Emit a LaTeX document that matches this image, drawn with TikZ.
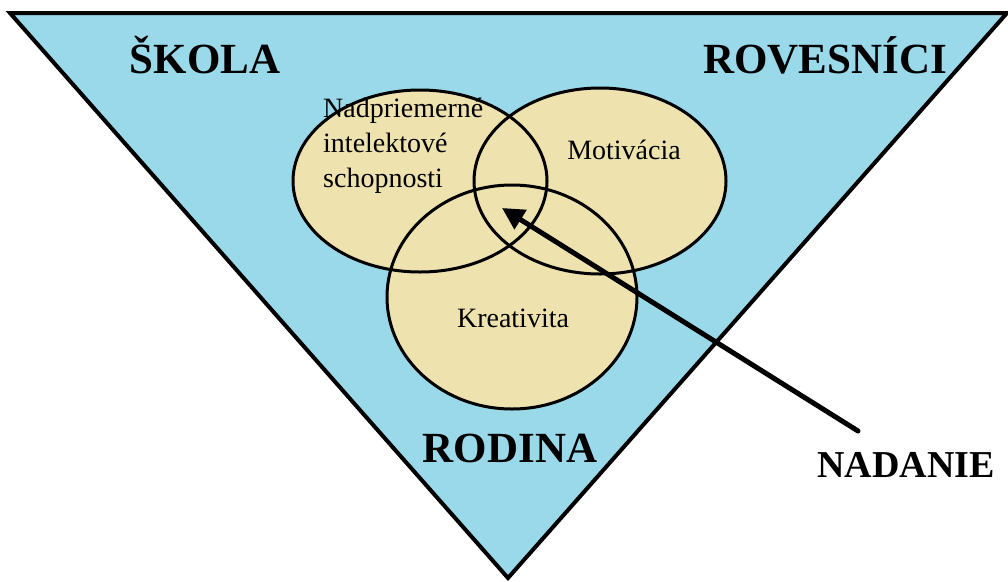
\documentclass[tikz,border=0pt]{standalone}
\usepackage{fontspec}
\setmainfont{Liberation Serif}
\usetikzlibrary{arrows.meta}

\definecolor{triblue}{RGB}{153,217,234}
\definecolor{venntan}{RGB}{238,226,175}

\begin{document}
\begin{tikzpicture}[x=1pt,y=-1pt]

\useasboundingbox (0,0) rectangle (1008,581);

\coordinate (A) at (10,13);
\coordinate (B) at (1007,13);
\coordinate (C) at (508,578);

\draw [fill=triblue, line width=4pt, line join=miter]
(A)
--(B)
--(C)
--cycle;

\coordinate (L) at (420,181);
\coordinate (R) at (600,181);
\coordinate (K) at (512,297);

\fill [venntan] (L) ellipse (127 and 91);
\fill [venntan] (R) ellipse (126 and 93);
\fill [venntan] (K) ellipse (125 and 112);

\draw [line width=3pt] (L) ellipse (127 and 91);
\draw [line width=3pt] (R) ellipse (126 and 93);
\draw [line width=3pt] (K) ellipse (125 and 112);

\node (skola) [anchor=base, inner sep=0, font=\fontsize{43}{50}\selectfont\bfseries] at (205,73) {ŠKOLA};
\node (rovesnici) [anchor=base, inner sep=0, font=\fontsize{43}{50}\selectfont\bfseries] at (825,73) {ROVESNÍCI};
\node (rodina) [anchor=base, inner sep=0, font=\fontsize{43}{50}\selectfont\bfseries] at (510,462) {RODINA};
\node (nadanie) [anchor=base, inner sep=0, font=\fontsize{38}{44}\selectfont\bfseries] at (906,477) {NADANIE};

\node (intelekt) [anchor=base west, inner sep=0, align=left, font=\fontsize{28}{35}\selectfont] at (323,187) {Nadpriemerné\\intelektové\\schopnosti};
\node (motivacia) [anchor=base, inner sep=0, font=\fontsize{28}{35}\selectfont] at (624,159) {Motivácia};
\node (kreativita) [anchor=base, inner sep=0, font=\fontsize{28}{35}\selectfont] at (513,327) {Kreativita};

\coordinate (tail) at (858,431);
\coordinate (tip) at (502,208);

\draw [line width=5pt, line cap=round, -{Triangle[length=22pt, width=22pt]}] (tail) -- (tip);

\end{tikzpicture}
\end{document}
